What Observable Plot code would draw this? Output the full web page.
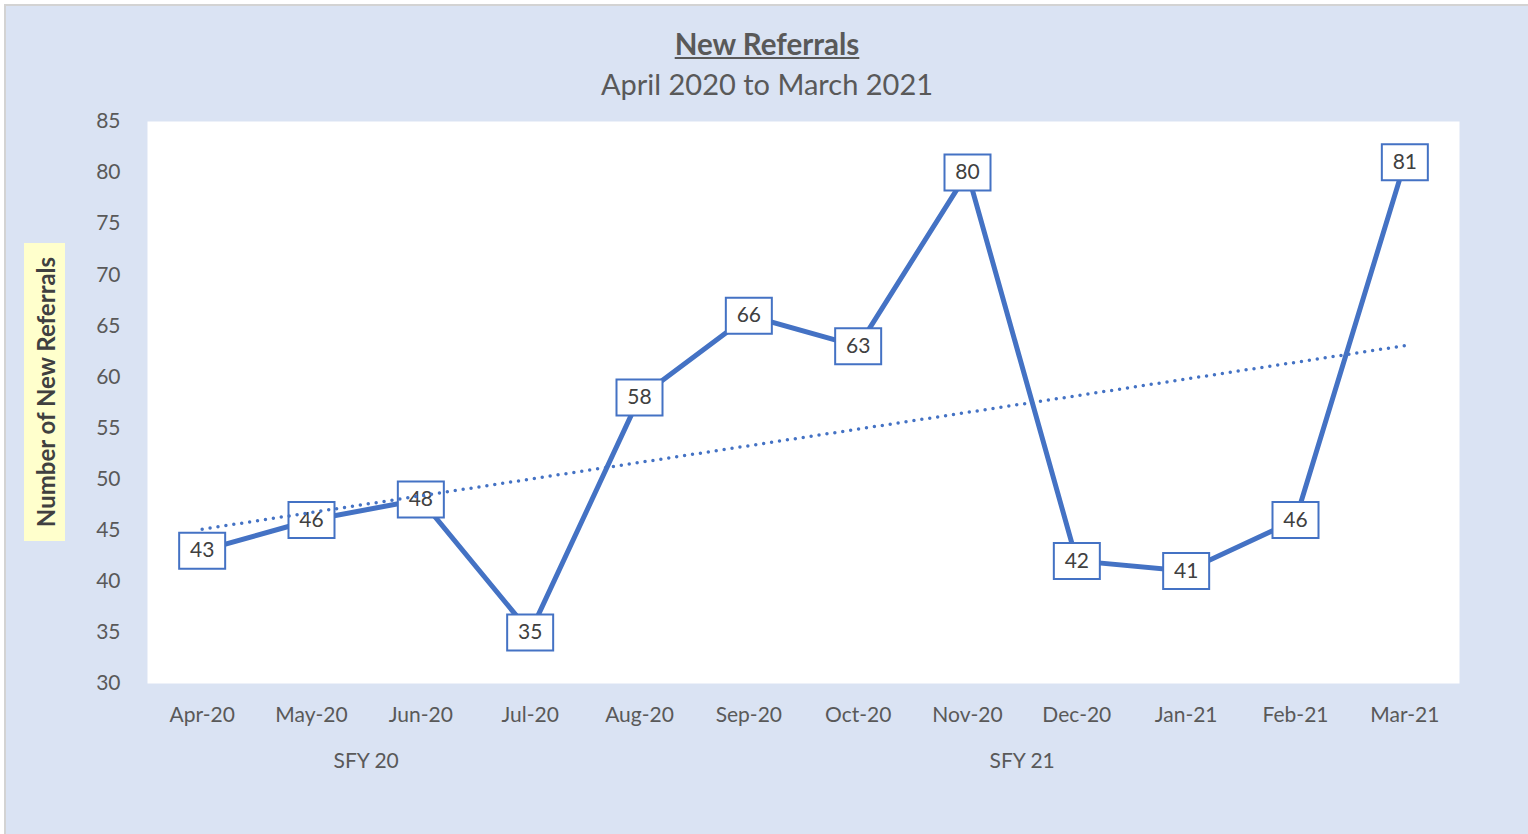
<!DOCTYPE html>
<html>
<head>
<meta charset="utf-8">
<script src="https://cdn.jsdelivr.net/npm/d3@7"></script>
<script src="https://cdn.jsdelivr.net/npm/@observablehq/plot@0.6"></script>
<style>
  html, body { margin: 0; padding: 0; background: #ffffff; }
  body { width: 1528px; height: 834px; overflow: hidden; position: relative; font-family: Lato, "Open Sans", sans-serif; }
  #panel { position: absolute; left: 4px; top: 4px; width: 1524px; height: 830px; background: #dae3f3;
           border-left: 2px solid #d3d3d3; border-top: 2px solid #d3d3d3; box-sizing: border-box; }
  #title { position: absolute; left: 0; width: 100%; top: 20px; text-align: center; font-size: 29.5px; font-weight: bold;
           text-decoration: underline; color: #595959; }
  #subtitle { position: absolute; left: 0; width: 100%; top: 60px; text-align: center; font-size: 29px; color: #595959; }
  #chart { position: absolute; left: 0; top: 100px; }
  #ylabel { position: absolute; left: 18px; top: 237px; width: 41px; height: 298px; background: #ffffcc; }
  #ylabel span { position: absolute; left: 50%; top: 50%; transform: translate(-50%, -50%) rotate(-90deg);
                 white-space: nowrap; font-size: 24px; font-weight: bold; color: #404040; }
</style>
</head>
<body>
<div id="panel">
  <div id="title">New Referrals</div>
  <div id="subtitle">April 2020 to March 2021</div>
  <div id="ylabel"><span>Number of New Referrals</span></div>
  <div id="chart"></div>
</div>
<script>
const months = ["Apr-20","May-20","Jun-20","Jul-20","Aug-20","Sep-20","Oct-20","Nov-20","Dec-20","Jan-21","Feb-21","Mar-21"];
const referrals = [43, 46, 48, 35, 58, 66, 63, 80, 42, 41, 46, 81];
const fiscalYear = ["SFY 20","SFY 20","SFY 20","SFY 20","SFY 21","SFY 21","SFY 21","SFY 21","SFY 21","SFY 21","SFY 21","SFY 21"];
const yTicks = [30, 35, 40, 45, 50, 55, 60, 65, 70, 75, 80, 85];

const data = months.map((m, i) => ({i, month: m, value: referrals[i]}));
const groupNames = Array.from(new Set(fiscalYear));
const groups = groupNames.map(g => {
  const idx = fiscalYear.map((f, i) => f === g ? i : -1).filter(i => i >= 0);
  return {label: g, center: (idx[0] + idx[idx.length - 1]) / 2};
});

const blue = "#4472c4";
const boxSymbol = { draw(ctx) { ctx.rect(-23, -18, 46, 36); } };

const chart = Plot.plot({
  width: 1522,
  height: 728,
  marginLeft: 141,
  marginRight: 69,
  marginTop: 15,
  marginBottom: 151,
  style: {background: "transparent", fontFamily: "Lato, 'Open Sans', sans-serif", fontSize: "21px", color: "#595959"},
  x: {domain: [-0.5, 11.5], ticks: d3.range(months.length), tickFormat: i => months[i], tickSize: 0, tickPadding: 24, label: null},
  y: {domain: [30, 85], ticks: yTicks, tickSize: 0, tickPadding: 27, label: null},
  marks: [
    Plot.frame({fill: "white", stroke: null}),
    Plot.line(data, {x: "i", y: "value", stroke: blue, strokeWidth: 5, curve: "linear"}),
    Plot.dot(data, {x: "i", y: "value", symbol: boxSymbol, r: 10, fill: "white", stroke: blue, strokeWidth: 2}),
    Plot.text(data, {x: "i", y: "value", text: d => String(d.value), fill: "#404040", fontSize: 21}),
    Plot.linearRegressionY(data, {x: "i", y: "value", ci: 0, stroke: blue, strokeWidth: 3.5, strokeDasharray: "0 8", strokeLinecap: "round"}),
    Plot.text(groups, {x: "center", text: "label", frameAnchor: "bottom", dy: 84, fill: "#595959", fontSize: 21})
  ]
});
document.getElementById("chart").appendChild(chart);
</script>
</body>
</html>
